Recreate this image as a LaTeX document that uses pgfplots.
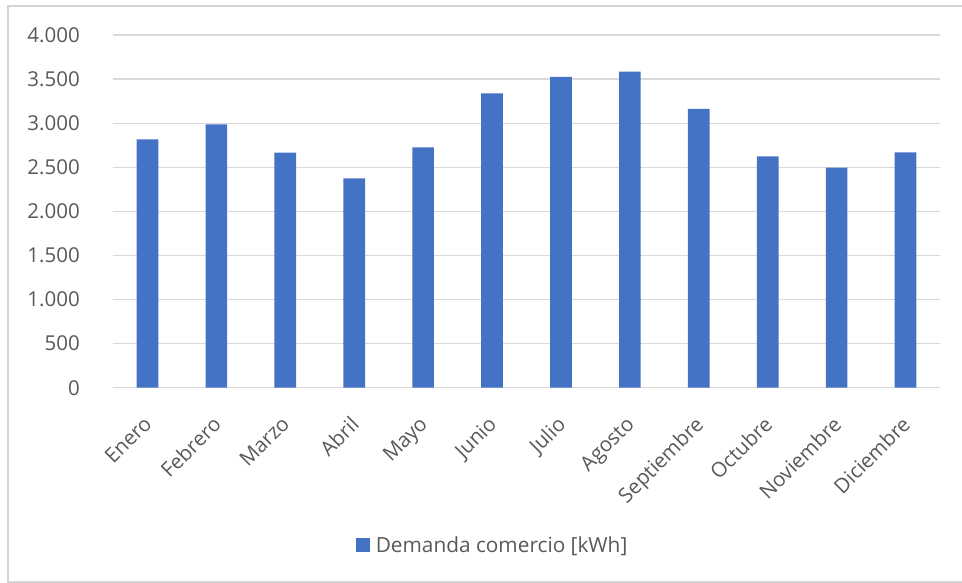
\documentclass[border=0pt]{standalone}
\usepackage{fontspec}
\setmainfont{Open Sans}
\usepackage{pgfplots}
\pgfplotsset{compat=1.18}

\definecolor{barblue}{HTML}{4472C4}
\definecolor{gridgray}{HTML}{D9D9D9}
\definecolor{textgray}{HTML}{595959}
\definecolor{framegray}{HTML}{D4D4D4}

\begin{document}
\begin{tikzpicture}[x=1pt,y=1pt]
  \useasboundingbox (0,0) rectangle (962,583);
  \fill[white] (0,0) rectangle (962,583);
  % chart area frame
  \draw[framegray, line width=1.6pt] (8,1) rectangle (990,577);

  \begin{axis}[
    at={(113pt,195.3pt)}, anchor=south west,
    scale only axis,
    width=827pt, height=352.7pt,
    ybar, bar width=21.6pt,
    xmin=-0.5, xmax=11.5,
    ymin=0, ymax=4000,
    ytick={0,500,...,4000},
    xtick={0,...,11},
    xticklabels={Enero,Febrero,Marzo,Abril,Mayo,Junio,Julio,Agosto,Septiembre,Octubre,Noviembre,Diciembre},
    axis x line=bottom, axis y line=left,
    x axis line style={gridgray, line width=1.2pt, -},
    y axis line style={draw=none},
    major tick length=0pt,
    ymajorgrids, grid style={gridgray, line width=1.2pt},
    tick label style={font=\fontsize{20.5}{24}\selectfont, text=textgray},
    /pgf/number format/.cd, 1000 sep={.}, assume math mode=true,
    /pgfplots/.cd,
    yticklabel style={inner sep=0pt, xshift=-33pt, anchor=east},
    xticklabel style={xshift=-5pt, yshift=-27pt, rotate=45, anchor=north east, inner sep=0pt},
    legend style={at={(0.459,-0.446)}, anchor=center, draw=none, fill=none,
      font=\fontsize{20.8}{24}\selectfont, text=textgray},
    legend image code/.code={\fill[barblue] (0pt,-7pt) rectangle (14pt,7pt); \path (18pt,0pt);},
  ]
    \addplot[fill=barblue, draw=none] coordinates {
      (0,2817) (1,2987) (2,2665) (3,2375) (4,2726) (5,3339)
      (6,3524) (7,3584) (8,3161) (9,2624) (10,2495) (11,2670)
    };
    \addlegendentry{Demanda comercio [kWh]}
  \end{axis}
\end{tikzpicture}
\end{document}
